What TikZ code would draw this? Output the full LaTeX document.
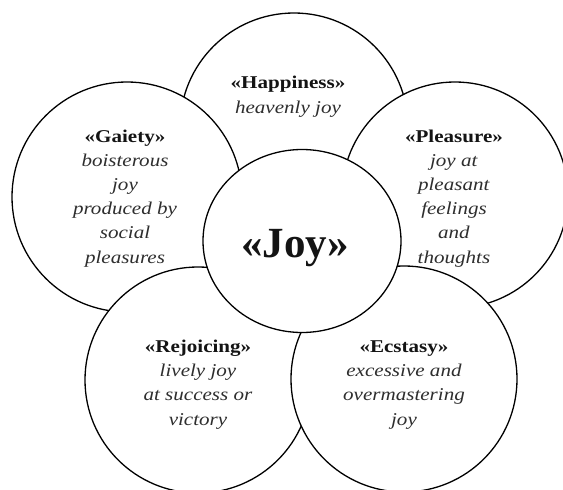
\documentclass[tikz,border=0pt]{standalone}
\usepackage{fontspec}
\setmainfont{Liberation Serif}
\newfontfamily\petalfont{Liberation Serif}[FakeStretch=1.17]
\usetikzlibrary{shapes.geometric}

\tikzset{
  petal/.style={circle,draw=black,fill=white,line width=1.3pt,inner sep=0pt},
  % base of a multi-line node sits on its last line
  petaltext/.style={align=center,anchor=base,inner sep=0pt,text=black!82,
    font=\petalfont\fontsize{18}{24.2}\selectfont},
}
\newcommand{\petalname}[1]{\textbf{\textcolor{black!92}{«#1»}}}

\begin{document}
\begin{tikzpicture}[x=1pt,y=-1pt]
    \useasboundingbox (0,0) rectangle (563,490);
    \clip (0,0) rectangle (563,490);

    % outer circles, back to front
    \node[petal,minimum size=228pt] (happiness) at (294,127) {};
    \node[petal,minimum size=230pt] (gaiety) at (127,197) {};
    \node[petal,minimum size=226pt] (pleasure) at (455,195) {};
    \node[petal,minimum size=226pt] (rejoicing) at (198,380) {};
    \node[petal,minimum size=226pt] (ecstasy) at (404,379) {};

    % centre on top of the rest
    \node[petal,ellipse,minimum width=198pt,minimum height=183pt] (joy) at (302,241) {};
    \node[anchor=base,inner sep=0pt,font=\fontsize{43}{43}\selectfont\bfseries,text=black!92] (joy-text) at (295,257) {«Joy»};

    % texts
    \node[petaltext] (happiness-text) at (288,113) {\petalname{Happiness}\\ \textit{heavenly joy}};
    \node[petaltext] (gaiety-text) at (125,263) {\petalname{Gaiety}\\ \textit{boisterous}\\ \textit{joy}\\ \textit{produced by}\\ \textit{social}\\ \textit{pleasures}};
    \node[petaltext] (pleasure-text) at (454,263) {\petalname{Pleasure}\\ \textit{joy at}\\ \textit{pleasant}\\ \textit{feelings}\\ \textit{and}\\ \textit{thoughts}};
    \node[petaltext] (rejoicing-text) at (198,425) {\petalname{Rejoicing}\\ \textit{lively joy}\\ \textit{at success or}\\ \textit{victory}};
    \node[petaltext] (ecstasy-text) at (404,425) {\petalname{Ecstasy}\\ \textit{excessive and}\\ \textit{overmastering}\\ \textit{joy}};
\end{tikzpicture}
\end{document}
